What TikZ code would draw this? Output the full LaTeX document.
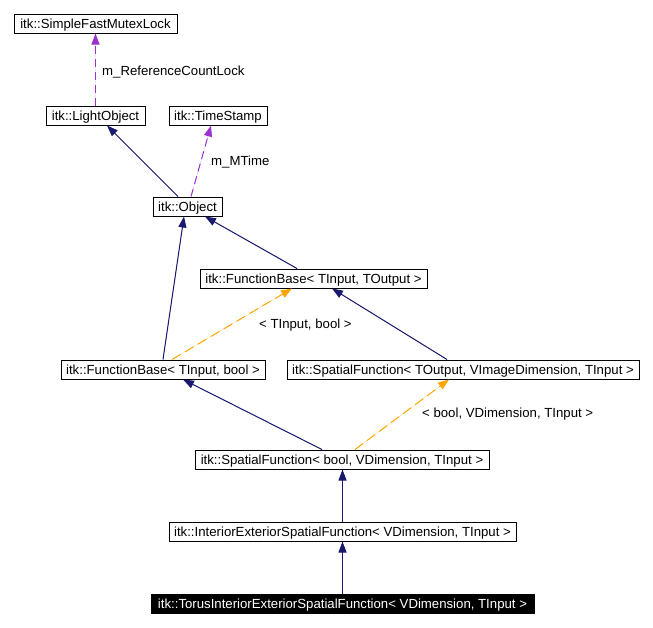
\documentclass[tikz,border=0pt]{standalone}
\usepackage{fontspec}
\setmainfont{Liberation Sans}
\usetikzlibrary{arrows.meta}
\definecolor{navy}{HTML}{191970}
\definecolor{purp}{HTML}{9A32CD}
\definecolor{orng}{HTML}{FFA500}
\begin{document}
\begin{tikzpicture}[x=1pt,y=-1pt,
  box/.style={draw=black,line width=1pt,rectangle,inner sep=0pt,minimum height=19pt,text height=10pt,text depth=1pt,font=\fontsize{13.2}{15}\selectfont},
  hl/.style={box,fill=black,text=white},
  lbl/.style={anchor=west,inner sep=0pt,text height=10pt,text depth=1pt,font=\fontsize{13.2}{15}\selectfont},
  tip/.style={-{Triangle[length=11pt,width=8pt]}},
  inh/.style={tip,draw=navy,fill=navy,line width=1pt},
  use/.style={tip,draw=purp,fill=purp,line width=1pt,dash pattern=on 8pt off 5pt},
  tmpl/.style={tip,draw=orng,fill=orng,line width=1pt,dash pattern=on 10pt off 5pt}]
\useasboundingbox (0,0) rectangle (653,627);
\node[box,minimum width=163pt] (mutex) at (95.5,23.5) {itk::SimpleFastMutexLock};
\node[box,minimum width=99pt] (light) at (95.5,115.5) {itk::LightObject};
\node[box,minimum width=98pt] (time) at (218,115.5) {itk::TimeStamp};
\node[box,minimum width=69pt] (object) at (187.5,206.5) {itk::Object};
\node[box,minimum width=227pt] (fbto) at (313.5,278.5) {itk::FunctionBase< TInput, TOutput >};
\node[box,minimum width=204pt] (fbbool) at (163,369.5) {itk::FunctionBase< TInput, bool >};
\node[box,minimum width=352pt] (sfto) at (463,369.5) {itk::SpatialFunction< TOutput, VImageDimension, TInput >};
\node[box,minimum width=294pt] (sfbool) at (342,459.5) {itk::SpatialFunction< bool, VDimension, TInput >};
\node[box,minimum width=347pt] (iesf) at (342.5,531.5) {itk::InteriorExteriorSpatialFunction< VDimension, TInput >};
\node[hl,minimum width=383pt] (torus) at (342.5,604) {itk::TorusInteriorExteriorSpatialFunction< VDimension, TInput >};

\draw[use] (light.north) -- (mutex.south);
\node[lbl] (l1) at (102,71) {m\_ReferenceCountLock};
\draw[inh] ([xshift=-9.5pt]object.north) -- ([xshift=11.5pt]light.south);
\draw[use] ([xshift=3.5pt]object.north) -- ([xshift=-7pt]time.south);
\node[lbl] (l2) at (211,161) {m\_MTime};
\draw[inh] (fbbool.north) -- ([xshift=-3.5pt]object.south);
\draw[inh] ([xshift=-16.5pt]fbto.north) -- ([xshift=17.5pt]object.south);
\draw[tmpl] ([xshift=9pt]fbbool.north) -- ([xshift=-21.5pt]fbto.south);
\node[lbl] (l3) at (259,324) {< TInput, bool >};
\draw[inh] ([xshift=-16pt]sfto.north) -- ([xshift=18.5pt]fbto.south);
\draw[inh] ([xshift=-20pt]sfbool.north) -- ([xshift=20pt]fbbool.south);
\draw[tmpl] ([xshift=13pt]sfbool.north) -- ([xshift=-14pt]sfto.south);
\node[lbl] (l4) at (422,413) {< bool, VDimension, TInput >};
\draw[inh] (iesf.north) -- (iesf.north |- sfbool.south);
\draw[inh] (torus.north) -- (torus.north |- iesf.south);
\end{tikzpicture}
\end{document}
